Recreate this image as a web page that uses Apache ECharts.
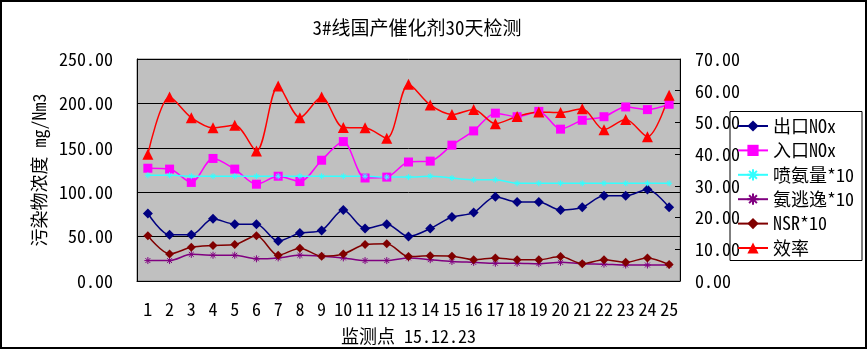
<!DOCTYPE html>
<html>
<head>
<meta charset="utf-8">
<script src="https://cdn.jsdelivr.net/npm/echarts@6/dist/echarts.min.js"></script>
<style>
  html, body { margin: 0; padding: 0; background: #fff; }
  #chart { width: 867px; height: 350px; }
</style>
</head>
<body>
<div id="chart"></div>
<script>
// values
const categories = ['1', '2', '3', '4', '5', '6', '7', '8', '9', '10', '11', '12', '13',
    '14', '15', '16', '17', '18', '19', '20', '21', '22', '23', '24', '25'];
const outNox = [76, 52, 52, 70, 64, 64, 45, 54, 57, 80, 59, 64, 50, 59, 72, 77, 95, 89, 89, 80, 83, 96, 96, 103, 83];
const inNox = [127, 126, 111, 138, 126, 109, 118, 112, 136, 157, 116, 117, 134, 135, 153, 169, 189, 185, 191, 171, 181, 185, 196, 193, 199];
const nh3Feed = [119, 119, 118, 118, 118, 118, 118, 118, 118, 118, 118, 117, 117, 118, 116, 114, 114, 110, 110, 110, 110, 110, 110, 110, 110];
const nh3Slip = [23, 23, 30, 29, 29, 25, 26, 29, 28, 26, 23, 23, 26, 24, 22, 21, 20, 20, 19.5, 21, 19.5, 19, 18, 18, 18];
const nsr = [51, 30.5, 38, 40, 41, 51, 29, 37, 28, 30.5, 41, 42, 27.5, 28.5, 28, 24, 26, 24, 24, 27.5, 19.5, 24, 21, 26, 18.5];
const efficiency = [40, 58, 51.5, 48.3, 49.1, 41, 61.5, 51.5, 58, 48.4, 48.3, 45, 62, 55.5, 52.5, 54.1, 49.6, 51.9, 53.3, 53.1, 54.3, 47.7, 50.9, 45.5, 58.6];

const FONT = "'Noto Sans Mono CJK SC', 'Noto Sans CJK SC', monospace";
const star = 'path://M0,5L10,5M5,0L5,10M1.5,1.5L8.5,8.5M8.5,1.5L1.5,8.5';

function lineSeries(name, data, color, symbol, size, axis) {
    return {
        name: name,
        type: 'line',
        data: data,
        yAxisIndex: axis || 0,
        smooth: 0.3,
        symbol: symbol,
        symbolSize: size,
        lineStyle: { color: color, width: 1.5 },
        itemStyle: { color: color, borderColor: color, borderWidth: symbol === star ? 1 : 0 }
    };
}

let myChart = echarts.init(document.getElementById('chart'));
let options = {
    animation: false,
    backgroundColor: '#fff',
    textStyle: { fontFamily: FONT },
    title: {
        text: '3#线国产催化剂30天检测',
        left: 412,
        textAlign: 'center',
        top: 13,
        textStyle: { fontSize: 19, fontWeight: 'normal', color: '#000', fontFamily: FONT }
    },
    grid: {
        left: 137, right: 187, top: 59, bottom: 64,
        show: true, backgroundColor: '#c0c0c0', borderColor: '#808080', borderWidth: 1
    },
    legend: {
        orient: 'vertical',
        left: 737,
        top: 117,
        padding: 0,
        itemWidth: 30,
        itemHeight: 14,
        itemGap: 6.4,
        textStyle: { fontSize: 18, color: '#000', fontFamily: FONT },
        data: ['出口NOx', '入口NOx', '喷氨量*10', '氨逃逸*10', 'NSR*10', '效率']
    },
    graphic: [
        { type: 'rect', shape: { x: 730, y: 111.5, width: 132, height: 149 }, style: { fill: 'none', stroke: '#000', lineWidth: 1 }, z: -1 },
        { type: 'rect', shape: { x: 1, y: 1, width: 865, height: 347 }, style: { fill: 'none', stroke: '#000', lineWidth: 2 }, z: 100 }
    ],
    xAxis: {
        type: 'category',
        data: categories,
        name: '监测点 15.12.23',
        nameLocation: 'middle',
        nameGap: 46,
        nameTextStyle: { fontSize: 18, color: '#000' },
        axisLine: { lineStyle: { color: '#000', width: 1 } },
        axisTick: { inside: true, length: 5, lineStyle: { color: '#000' } },
        axisLabel: { interval: 0, color: '#000', fontSize: 18, margin: 19 }
    },
    yAxis: [
        {
            type: 'value',
            min: 0, max: 250, interval: 50,
            name: '污染物浓度 mg/Nm3',
            nameLocation: 'middle',
            nameGap: 87,
            nameTextStyle: { fontSize: 18, color: '#000' },
            axisLine: { show: true, lineStyle: { color: '#000' } },
            axisTick: { show: false },
            axisLabel: { color: '#000', fontSize: 18, margin: 24, formatter: v => v.toFixed(2) },
            splitLine: { lineStyle: { color: '#000', width: 1 } }
        },
        {
            type: 'value',
            min: 0, max: 70, interval: 10,
            position: 'right',
            axisLine: { show: true, lineStyle: { color: '#000' } },
            axisTick: { show: true, inside: true, length: 5, lineStyle: { color: '#000' } },
            axisLabel: { color: '#000', fontSize: 18, margin: 15, formatter: v => v.toFixed(2) },
            splitLine: { show: false }
        }
    ],
    series: [
        lineSeries('出口NOx', outNox, '#000080', 'diamond', 10),
        lineSeries('入口NOx', inNox, '#ff00ff', 'rect', 9),
        lineSeries('喷氨量*10', nh3Feed, '#33ffff', star, 6),
        lineSeries('氨逃逸*10', nh3Slip, '#800080', star, 7),
        lineSeries('NSR*10', nsr, '#800000', 'diamond', 9),
        lineSeries('效率', efficiency, '#ff0000', 'triangle', 11, 1)
    ]
};
myChart.setOption(options);
</script>
</body>
</html>
